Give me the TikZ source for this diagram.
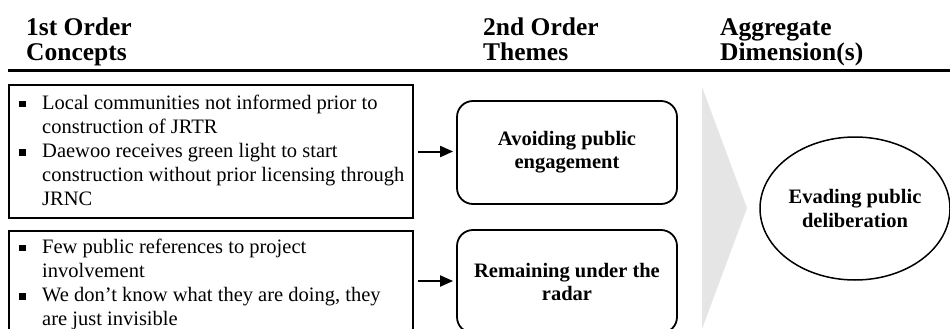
\documentclass[tikz,border=0pt]{standalone}
\usepackage{fontspec}
\setmainfont{Liberation Serif}
\usetikzlibrary{arrows.meta,shapes.geometric}
\definecolor{chev}{RGB}{229,229,229}
\newcommand\bodyfont{\fontsize{20.5}{24.2}\selectfont}
\newcommand\bitem[1]{\hangindent=23pt\hangafter=1\noindent\makebox[23pt][l]{\rule[1.8pt]{6.5pt}{6.5pt}}#1\par}
\begin{document}
\begin{tikzpicture}[x=1pt,y=-1pt,
  head/.style={anchor=base west,inner sep=0pt,font=\fontsize{25.5}{28}\selectfont\bfseries},
  cbox/.style={draw,line width=1.6pt,inner sep=0pt,minimum width=404pt},
  ctext/.style={anchor=base west,inner sep=0pt},
  theme/.style={draw,line width=1.8pt,rounded corners=16pt,minimum width=220pt,minimum height=103pt,inner sep=0pt,align=center,font=\fontsize{20.5}{23}\selectfont\bfseries},
  dim/.style={draw,ellipse,line width=1.5pt,minimum width=190pt,minimum height=143pt,inner sep=0pt,align=center,font=\fontsize{20.5}{24.5}\selectfont\bfseries},
  arr/.style={line width=2pt,-{Triangle[length=13pt,width=11pt]},shorten <=4pt,shorten >=3pt}]
\useasboundingbox (0,0) rectangle (950,329);
\clip (0,0) rectangle (950,329);
% headings
\node[head] (h1a) at (26,35.5) {1st Order};
\node[head] (h1b) at (26,61) {Concepts};
\node[head] (h2a) at (483,35.5) {2nd Order};
\node[head] (h2b) at (483,61) {Themes};
\node[head] (h3a) at (720,35.5) {Aggregate};
\node[head] (h3b) at (720,61) {Dimension(s)};
\coordinate (hl) at (8,70.5);
\coordinate (hr) at (950,70.5);
\draw[line width=2.5pt] (hl) -- (hr);
% first order concept boxes
\node[cbox,minimum height=133pt] (c1) at (211,151.5) {};
\node[cbox,minimum height=100pt] (c2) at (211,281) {};
\node[ctext] (t1) at (19,109) {\parbox[t]{394pt}{\bodyfont
  \bitem{Local communities not informed prior to\\construction of JRTR}
  \bitem{Daewoo receives green light to start\\construction without prior licensing through\\JRNC}}};
\node[ctext] (t2) at (19,253) {\parbox[t]{394pt}{\bodyfont
  \bitem{Few public references to project\\involvement}
  \bitem{We don’t know what they are doing, they\\are just invisible}}};
% second order themes
\node[theme] (r1) at (567,152.5) {Avoiding public\\engagement};
\node[theme] (r2) at (567,281.5) {Remaining under the\\radar};
% chevron
\fill[chev] (702,87) -- (747,208) -- (702,329) -- cycle;
% aggregate dimension
\node[dim] (d) at (855,208.5) {Evading public\\deliberation};
% arrows
\draw[arr] (c1.east) -- (c1.east -| r1.west);
\draw[arr] (c2.east) -- (c2.east -| r2.west);
\end{tikzpicture}
\end{document}
